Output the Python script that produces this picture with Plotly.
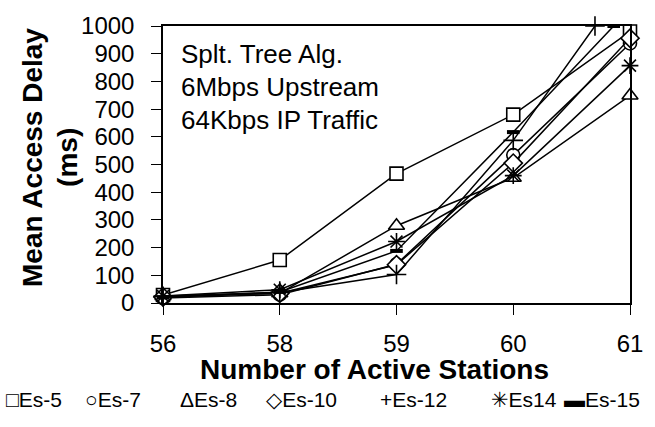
import plotly.graph_objects as go

# ---- data ----
x_labels = ["56", "58", "59", "60", "61"]
es5 = [29, 155, 467, 680, 980]
es7 = [18, 30, 140, 534, 937]
es8 = [25, 35, 279, 452, 749]
es10 = [22, 35, 138, 505, 956]
es12 = [24, 38, 103, 587, 1177]
es14 = [25, 48, 222, 460, 857]
es15 = [20, 40, 188, 617, 1062]

series_names = ["Es-5", "Es-7", "Es-8", "Es-10", "Es-12", "Es14", "Es-15"]
legend_symbols = ["\u25a1", "\u25cb", "\u0394", "\u25c7", "+", "\u2733", "\u25ac"]
y_ticks = [0, 100, 200, 300, 400, 500, 600, 700, 800, 900, 1000]
note_lines = ["Splt. Tree Alg.", "6Mbps Upstream", "64Kbps IP Traffic"]

YMAX = 1000

styles = {
    "Es-5": dict(symbol="square", size=13, color="white"),
    "Es-7": dict(symbol="circle", size=13, color="white"),
    "Es-8": dict(symbol="triangle-up", size=14, color="white"),
    "Es-10": dict(symbol="diamond", size=14, color="white"),
    "Es-12": dict(symbol="cross-thin-open", size=14, color="black"),
    "Es14": dict(symbol="asterisk-open", size=14, color="black"),
    "Es-15": dict(symbol="line-ew-open", size=9, color="black"),
}
all_series = [es5, es7, es8, es10, es12, es14, es15]

# plot-area geometry (pixels)
W, H = 655, 427
L, R, T, B = 163, 24, 19, 124
PW, PH = W - L - R, H - T - B


def clip_series(vals):
    xs, ys = [], []
    for i, v in enumerate(vals):
        if v > YMAX and i > 0:
            v0 = vals[i - 1]
            f = (YMAX - v0) / (v - v0)
            xs.append(i - 1 + f)
            ys.append(YMAX)
        else:
            xs.append(i)
            ys.append(v)
    return xs, ys


fig = go.Figure()
for name, vals in zip(series_names, all_series):
    st = styles[name]
    xs, ys = clip_series(vals)
    fig.add_trace(go.Scatter(
        x=xs, y=ys, name=name, mode="lines+markers",
        line=dict(color="black", width=1.5),
        marker=dict(symbol=st["symbol"], size=st["size"], color=st["color"],
                    line=dict(color="black", width=1.6 if name != "Es-15" else 4)),
        cliponaxis=False, showlegend=False,
    ))

font_main = "Liberation Sans, Arial, DejaVu Sans, sans-serif"

fig.update_layout(
    width=W, height=H,
    margin=dict(l=L, r=R, t=T, b=B),
    paper_bgcolor="white", plot_bgcolor="white",
    font=dict(family=font_main, color="black"),
    showlegend=False,
    xaxis=dict(
        range=[0, len(x_labels) - 1],
        tickmode="array", tickvals=list(range(len(x_labels))), ticktext=x_labels,
        ticks="outside", ticklen=10, tickwidth=1.2, tickcolor="black",
        showline=True, linecolor="black", linewidth=1.5, mirror=True,
        showgrid=False, zeroline=False,
        tickfont=dict(size=24, family=font_main),
        ticklabelstandoff=8,
    ),
    yaxis=dict(
        range=[0, YMAX],
        tickmode="array", tickvals=y_ticks, ticktext=[str(v) for v in y_ticks],
        ticks="outside", ticklen=10, tickwidth=1.2, tickcolor="black",
        showline=True, linecolor="black", linewidth=1.5, mirror=True,
        showgrid=False, zeroline=False,
        tickfont=dict(size=24, family=font_main),
        ticklabelstandoff=12,
    ),
)


def px_to_paper(px, py):
    return (px - L) / PW, (H - B - py) / PH


anns = []
# note text in plot
for i, line in enumerate(note_lines):
    x, y = px_to_paper(179, 48 + 33.5 * i)
    anns.append(dict(text=line, x=x, y=y, xref="paper", yref="paper",
                     xanchor="left", yanchor="middle", showarrow=False,
                     font=dict(size=26, family=font_main)))
# axis titles
x, y = px_to_paper(375, 371)
anns.append(dict(text="<b>Number of Active Stations</b>", x=x, y=y, xref="paper", yref="paper",
                 xanchor="center", yanchor="middle", showarrow=False,
                 font=dict(size=28, family=font_main)))
x, y = px_to_paper(32, 154)
anns.append(dict(text="<b>Mean Access Delay</b>", x=x, y=y, xref="paper", yref="paper",
                 xanchor="center", yanchor="middle", showarrow=False, textangle=-90,
                 font=dict(size=28, family=font_main)))
x, y = px_to_paper(67, 154)
anns.append(dict(text="<b>(ms)</b>", x=x, y=y, xref="paper", yref="paper",
                 xanchor="center", yanchor="middle", showarrow=False, textangle=-90,
                 font=dict(size=28, family=font_main)))
# legend
legend_centers = [34, 113, 209, 302, 414, 525, 603]
for sym, name, cx in zip(legend_symbols, series_names, legend_centers):
    x, y = px_to_paper(cx, 402)
    anns.append(dict(text=sym + name, x=x, y=y, xref="paper", yref="paper",
                     xanchor="center", yanchor="middle", showarrow=False,
                     font=dict(size=21, family=font_main)))

fig.update_layout(annotations=anns)
fig.write_html("out.html")
